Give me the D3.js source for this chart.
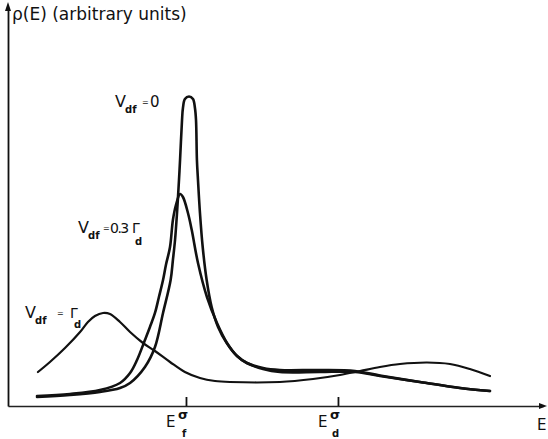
<!DOCTYPE html>
<html>
<head>
<meta charset="utf-8">
<script src="https://cdn.jsdelivr.net/npm/d3@7"></script>
<style>
  body { margin: 0; background: #fff; }
  svg text { font-family: "DejaVu Sans", sans-serif; fill: #111; }
</style>
</head>
<body>
<div id="chart"></div>
<script>
const width = 548;
const height = 439;

// energy in units where E_f = 0 and E_d = 10, density in arbitrary units
const tickE = [0, 10];
const tickSub = ["f", "d"];

const curveV0 = [
  [-9.80, 2.26], [-7.63, 2.76], [-5.66, 3.52], [-4.34, 4.52], [-3.68, 5.78],
  [-2.70, 9.80], [-2.04, 14.82], [-1.51, 23.37], [-1.01, 31.66], [-0.86, 36.68],
  [-0.72, 41.71], [-0.59, 48.49], [-0.46, 56.78], [-0.39, 61.81], [-0.26, 71.86],
  [-0.20, 74.87], [-0.07, 77.14], [0.20, 77.76], [0.46, 77.14], [0.59, 74.87],
  [0.66, 71.86], [0.72, 61.81], [0.79, 56.78], [0.92, 48.49], [1.10, 39.95],
  [1.36, 31.66], [1.69, 24.87], [2.11, 19.85], [2.68, 15.83], [3.36, 12.56],
  [4.01, 10.80], [5.07, 9.30], [6.18, 8.54], [8.82, 8.54], [11.12, 8.54],
  [12.76, 7.54], [15.39, 6.03], [18.03, 4.52], [20.00, 3.77]
];

const curveV03 = [
  [-9.80, 2.51], [-7.63, 3.02], [-5.66, 4.02], [-4.34, 5.78], [-3.68, 8.29],
  [-3.22, 11.56], [-2.70, 16.58], [-2.37, 19.85], [-2.04, 23.37], [-1.78, 27.39],
  [-1.51, 31.66], [-1.32, 35.43], [-1.05, 39.95], [-0.86, 46.73], [-0.66, 50.50],
  [-0.39, 53.27], [-0.20, 52.51], [0.13, 48.49], [0.38, 44.22], [0.79, 35.93],
  [1.38, 27.39], [2.04, 20.85], [2.70, 15.83], [3.36, 12.56], [4.01, 10.80],
  [5.07, 9.55], [6.18, 9.05], [8.82, 9.05], [11.12, 8.79], [12.76, 7.66],
  [15.39, 6.03], [18.03, 4.52], [20.00, 3.77]
];

const curveVG = [
  [-9.74, 8.54], [-8.95, 11.06], [-7.96, 14.57], [-6.97, 18.59], [-6.45, 21.11],
  [-5.99, 22.61], [-5.46, 23.37], [-5.00, 23.12], [-4.34, 21.11], [-3.68, 18.59],
  [-2.83, 15.83], [-2.04, 13.82], [-1.05, 11.06], [-0.07, 8.54], [0.92, 7.04],
  [1.91, 6.28], [2.89, 6.03], [6.18, 6.03], [8.36, 6.78], [10.13, 7.79],
  [11.45, 8.79], [12.76, 9.80], [14.08, 10.55], [15.86, 10.93], [17.37, 10.55],
  [18.68, 9.30], [20.00, 7.54]
];

const svg = d3.select("#chart").append("svg")
    .attr("width", width)
    .attr("height", height);

let x = d3.scaleLinear().domain([-11.71, 23.49]).range([8, 543]);
let y = d3.scaleLinear().domain([0, 100]).range([406, 8]);

// axes
let xAxis = svg.append("g")
    .attr("transform", "translate(0," + y(0) + ")")
    .call(d3.axisBottom(x).tickValues(tickE).tickSizeInner(-9).tickSizeOuter(0).tickFormat(""));
xAxis.select(".domain").attr("stroke", "#222").attr("stroke-width", 1.6);
xAxis.selectAll(".tick line").attr("stroke", "#111").attr("stroke-width", 1.8);

let yAxis = svg.append("g")
    .attr("transform", "translate(" + x.range()[0] + ",0)")
    .call(d3.axisLeft(y).tickValues([]).tickSizeOuter(0));
yAxis.select(".domain").attr("stroke", "#111").attr("stroke-width", 1.8);

// arrow heads
let xe = x.range()[1], y0 = y(0);
svg.append("path")
    .attr("d", `M${xe - 4},${y0 - 3} L${xe + 4},${y0} L${xe - 4},${y0 + 3} Z`)
    .attr("fill", "#111");
let x0 = x.range()[0], yt = y.range()[1];
svg.append("path")
    .attr("d", `M${x0 - 3},${yt + 3} L${x0},${yt - 6} L${x0 + 3},${yt + 3} Z`)
    .attr("fill", "#111");

// curves
let line = d3.line()
    .x(d => x(d[0]))
    .y(d => y(d[1]))
    .curve(d3.curveCatmullRom.alpha(0.5));

[[curveV0, 2.6], [curveV03, 2.6], [curveVG, 2.2]].forEach(([pts, w]) => {
  svg.append("path")
      .datum(pts)
      .attr("d", line)
      .attr("fill", "none")
      .attr("stroke", "#111")
      .attr("stroke-width", w)
      .attr("stroke-linejoin", "round")
      .attr("stroke-linecap", "round");
});

// axis titles
svg.append("text")
    .attr("x", 12).attr("y", 20)
    .style("font-size", "17px")
    .text("ρ(E) (arbitrary units)");

svg.append("text")
    .attr("x", 537).attr("y", 430)
    .style("font-size", "15px")
    .text("E");

// tick labels E_f^σ, E_d^σ
tickE.forEach((e, i) => {
  let px = x(e);
  let g = svg.append("text");
  g.append("tspan").attr("x", px - 20).attr("y", 427).style("font-size", "15px").text("E");
  g.append("tspan").attr("x", px - 8).attr("y", 419).style("font-size", "13px")
      .style("font-weight", "bold").text("σ");
  g.append("tspan").attr("x", px - (tickSub[i] == "f" ? 4 : 6)).attr("y", 437)
      .style("font-size", "10px").style("font-weight", "bold").text(tickSub[i]);
});

// curve labels
function vLabel(px, py, eqX, rest) {
  let t = svg.append("text");
  t.append("tspan").attr("x", px).attr("y", py).style("font-size", "16px").text("V");
  t.append("tspan").attr("x", px + 10).attr("y", py + 6)
      .style("font-size", "10px").style("font-weight", "bold").text("df");
  t.append("tspan").attr("x", px + eqX).attr("y", py - 2).style("font-size", "8px").text("=");
  rest(t, px, py);
}

vLabel(115, 107, 27, (t, px, py) => {
  t.append("tspan").attr("x", px + 35).attr("y", py).style("font-size", "15px").text("0");
});
vLabel(78, 233, 25, (t, px, py) => {
  t.append("tspan").attr("x", px + 32).attr("y", py).style("font-size", "14px")
      .attr("letter-spacing", "-1.5").text("0.3");
  t.append("tspan").attr("x", px + 54).attr("y", py).style("font-size", "14px").text("Γ");
  t.append("tspan").attr("x", px + 57).attr("y", py + 12)
      .style("font-size", "10px").style("font-weight", "bold").text("d");
});
vLabel(25, 318, 32, (t, px, py) => {
  t.append("tspan").attr("x", px + 45).attr("y", py).style("font-size", "14px").text("Γ");
  t.append("tspan").attr("x", px + 49).attr("y", py + 10)
      .style("font-size", "10px").style("font-weight", "bold").text("d");
});
</script>
</body>
</html>
